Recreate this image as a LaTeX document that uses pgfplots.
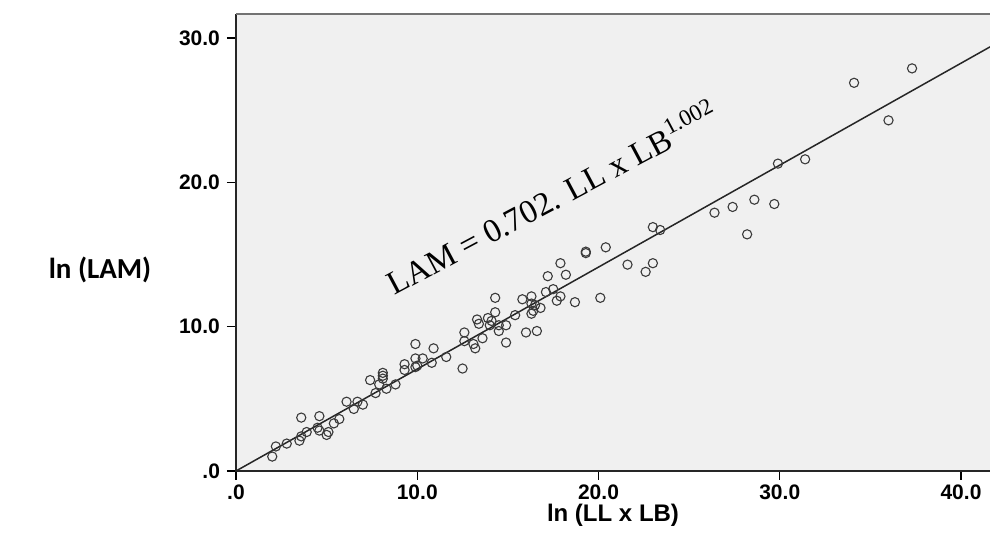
\documentclass[border=0pt]{standalone}
\usepackage{pgfplots}
\pgfplotsset{compat=1.18}
\usepackage{fontspec}
\setmainfont{Liberation Sans}
\newfontfamily\serif{Liberation Serif}
\newfontfamily\calib{Carlito}
\definecolor{plotbg}{HTML}{F0F0F0}
\definecolor{markc}{HTML}{3A3A3A}

% LAM vs LL x LB, both on ln scale
\pgfplotstableread{
x y
2.0 1.0
2.2 1.7
2.8 1.9
3.5 2.1
3.6 2.4
3.6 3.7
3.9 2.7
4.5 3.0
4.6 3.8
4.6 2.8
5.1 2.7
5.0 2.5
5.4 3.3
5.7 3.6
6.1 4.8
6.5 4.3
6.7 4.8
7.0 4.6
7.4 6.3
7.7 5.4
8.1 6.8
8.1 6.6
8.1 6.4
7.9 6.0
8.3 5.7
8.8 6.0
9.3 7.4
9.3 7.0
9.9 8.8
9.9 7.8
10.3 7.8
10.0 7.3
9.9 7.2
10.8 7.5
10.9 8.5
11.6 7.9
12.5 7.1
12.6 9.6
12.6 9.0
13.1 8.8
13.2 8.5
13.6 9.2
13.3 10.5
13.4 10.2
13.9 10.6
14.1 10.4
14.0 10.1
14.3 12.0
14.3 11.0
14.5 10.1
14.9 10.1
14.5 9.7
14.9 8.9
15.4 10.8
15.8 11.9
16.0 9.6
16.3 12.1
16.3 11.6
16.5 11.5
16.3 10.9
16.4 11.1
16.8 11.3
16.6 9.7
17.1 12.4
17.2 13.5
17.5 12.6
17.7 11.8
17.9 12.1
17.9 14.4
18.2 13.6
18.7 11.7
19.3 15.1
19.3 15.2
20.1 12.0
20.4 15.5
21.6 14.3
22.6 13.8
23.0 14.4
23.0 16.9
23.4 16.7
26.4 17.9
27.4 18.3
28.2 16.4
28.6 18.8
29.7 18.5
29.9 21.3
31.4 21.6
34.1 26.9
36.0 24.3
37.3 27.9
}\pts

\begin{document}
\begin{tikzpicture}
\useasboundingbox (-118pt,-31pt) rectangle (377pt,235.5pt);
\begin{axis}[
    scale only axis,
    width=377pt,height=228.5pt,
    xmin=0,xmax=41.6,ymin=0,ymax=31.67,
    axis background/.style={fill=plotbg},
    axis line style={draw=none},
    tick align=outside,tick pos=left,
    major tick length=4.5pt,
    tick style={black,line width=0.6pt},
    xtick={0,10,20,30,40},
    xticklabels={\textbf{.0},\textbf{10.0},\textbf{20.0},\textbf{30.0},\textbf{40.0}},
    ytick={0,10,20,30},
    yticklabels={\textbf{.0},\textbf{10.0},\textbf{20.0},\textbf{30.0}},
    ticklabel style={font=\fontsize{10.5}{12}\selectfont},
    xticklabel style={yshift=1pt},
    xlabel={\textbf{ln (LL x LB)}},
    xlabel style={font=\fontsize{12}{14}\selectfont,at={(axis description cs:0.5,0)},anchor=center,yshift=-22pt},
    ylabel={\calib\bfseries ln (LAM)},
    ylabel style={rotate=-90,font=\fontsize{14.5}{16}\selectfont,at={(axis description cs:0,0.44)},anchor=center,xshift=-68pt},
    clip=false
]
\addplot[only marks,mark=o,mark size=2.3pt,mark options={markc,line width=0.55pt}] table[x=x,y=y]{\pts};
\addplot[black!85,line width=0.75pt] coordinates {(0,0) (41.6,29.39)};
\draw[black!85,line width=0.8pt] (rel axis cs:0,1) -- (rel axis cs:0,0) -- (rel axis cs:1,0);
\draw[black!55,line width=0.6pt] (rel axis cs:0,1) -- (rel axis cs:1,1);
\node[rotate=28,font=\serif\fontsize{16.5}{19}\selectfont] at (axis cs:17.4,19.0)
    {LAM = 0.702. LL x LB\textsuperscript{1.002}};
\end{axis}
\end{tikzpicture}
\end{document}
